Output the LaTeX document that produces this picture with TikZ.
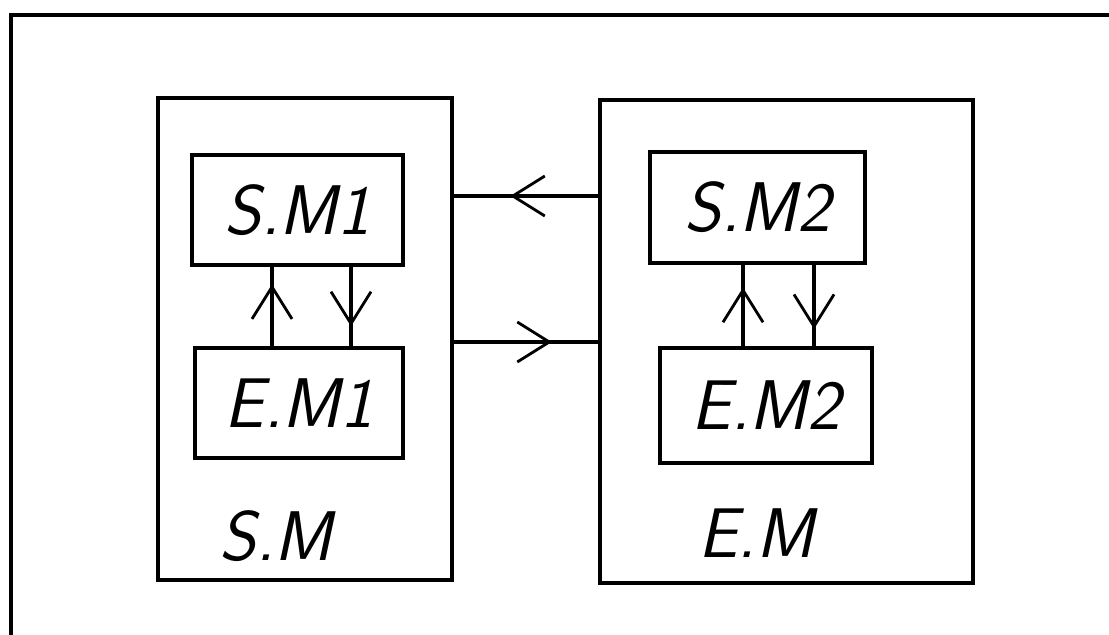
\documentclass[tikz,border=0pt]{standalone}
\usetikzlibrary{calc}
\usetikzlibrary{arrows.meta}
\usetikzlibrary{decorations.markings}

\begin{document}
\begin{tikzpicture}[
     x=0.025cm, y=-0.025cm,
     txt/.style={font=\fontsize{50}{54}\selectfont\sffamily\slshape, inner sep=0pt},
     blk/.style={draw, line width=2.6pt, txt},
     unit/.style={draw, line width=2.8pt},
     link/.style={line width=2.2pt},
     barb/.style={postaction={decorate, decoration={markings,
       mark=at position #1 with {\arrow{Straight Barb[length=0.8cm, width=1cm, line width=2pt]}}}}}
   ]
   \useasboundingbox (0,0) rectangle (1109,635);
   % Frame.
   \draw[line width=2.4pt] (11,635) -- (11,15) -- (1109,15);
   % Units.
   \node[unit, minimum width=7.35cm, minimum height=12.05cm] (sm) at (305,339) {};
   \node[unit, minimum width=9.325cm, minimum height=12.075cm] (em) at (786.5,341.5) {};
   \node[txt] (smlab) at (276,536) {S.M};
   \node[txt] (emlab) at (756,533) {E.M};
   % Modules.
   \node[blk, minimum width=5.275cm, minimum height=2.75cm] (sm1) at (297.5,210) {S.M1};
   \node[blk, minimum width=5.2cm, minimum height=2.75cm] (em1) at (299,403) {E.M1};
   \node[blk, minimum width=5.375cm, minimum height=2.775cm] (sm2) at (757.5,207.5) {S.M2};
   \node[blk, minimum width=5.3cm, minimum height=2.875cm] (em2) at (766,405.5) {E.M2};
   % Links.
   \draw[link, barb=0.78] (em1.north -| 272,0) -- (sm1.south -| 272,0);
   \draw[link, barb=0.75] (sm1.south -| 351,0) -- (em1.north -| 351,0);
   \draw[link, barb=0.72] (em2.north -| 743,0) -- (sm2.south -| 743,0);
   \draw[link, barb=0.79] (sm2.south -| 814,0) -- (em2.north -| 814,0);
   \draw[link, barb=0.61] (em.west |- 0,196) -- (sm.east |- 0,196);
   \draw[link, barb=0.68] (sm.east |- 0,342) -- (em.west |- 0,342);
 \end{tikzpicture}
\end{document}
